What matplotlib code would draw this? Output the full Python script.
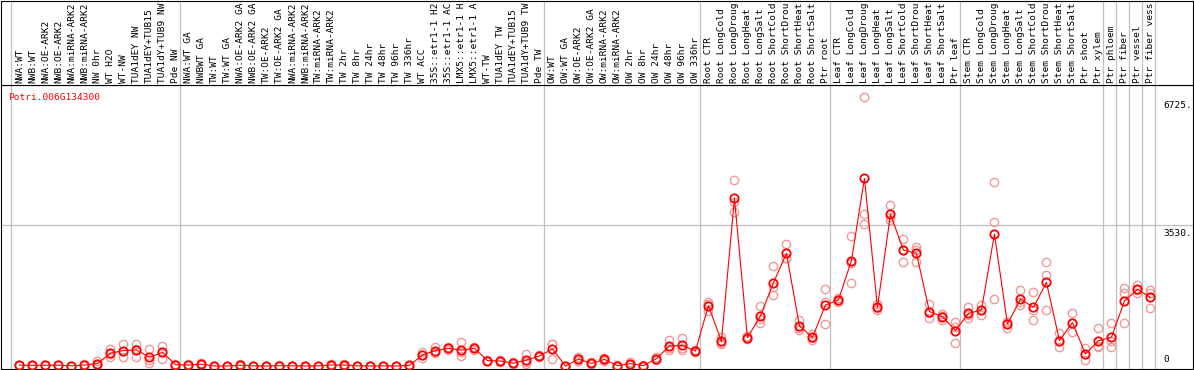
import matplotlib
matplotlib.use("Agg")
import matplotlib.pyplot as plt

# sample labels (as shown, truncated by the header height)
labels = [
    "NWA:WT", "NWB:WT", "NWA:OE-ARK2", "NWB:OE-ARK2", "NWA:miRNA-ARK2", "NWB:miRNA-ARK2",
    "NW 0hr", "WT H2O", "WT-NW", "TUA1dEY NW", "TUA1dEY+TUB15", "TUA1dY+TUB9 NW", "Pde NW",
    "NWA:WT GA", "NWBWT GA", "TW:WT", "TW:WT GA", "NWA:OE-ARK2 GA", "NWB:OE-ARK2 GA",
    "TW:OE-ARK2", "TW:OE-ARK2 GA", "NWA:miRNA-ARK2", "NWB:miRNA-ARK2", "TW:miRNA-ARK2",
    "TW:miRNA-ARK2", "TW 2hr", "TW 8hr", "TW 24hr", "TW 48hr", "TW 96hr", "TW 336hr",
    "WT ACC", "35S::etr1-1 H2", "35S::etr1-1 AC", "LMX5::etr1-1 H", "LMX5::etr1-1 A",
    "WT-TW", "TUA1dEY TW", "TUA1dEY+TUB15", "TUA1dY+TUB9 TW", "Pde TW",
    "OW:WT", "OW:WT GA", "OW:OE-ARK2", "OW:OE-ARK2 GA", "OW:miRNA-ARK2", "OW:miRNA-ARK2",
    "OW 2hr", "OW 8hr", "OW 24hr", "OW 48hr", "OW 96hr", "OW 336hr",
    "Root CTR", "Root LongCold", "Root LongDroug", "Root LongHeat", "Root LongSalt",
    "Root ShortCold", "Root ShortDrou", "Root ShortHeat", "Root ShortSalt", "Ptr root",
    "Leaf CTR", "Leaf LongCold", "Leaf LongDroug", "Leaf LongHeat", "Leaf LongSalt",
    "Leaf ShortCold", "Leaf ShortDrou", "Leaf ShortHeat", "Leaf ShortSalt", "Ptr leaf",
    "Stem CTR", "Stem LongCold", "Stem LongDroug", "Stem LongHeat", "Stem LongSalt",
    "Stem ShortCold", "Stem ShortDrou", "Stem ShortHeat", "Stem ShortSalt", "Ptr shoot",
    "Ptr xylem", "Ptr phloem", "Ptr fiber", "Ptr vessel", "Ptr fiber vess",
]

# group boundaries (column index where a new group starts)
group_edges = [0, 13, 41, 53, 63, 73, 84, 85, 86, 87, 88]

mean_vals = [
    20, 15, 20, 20, 5, 25, 60, 320, 385, 400, 220, 340, 35,
    25, 45, 0, 0, 20, 5, 0, 10, 5, 0, 5, 25, 25, 5, 0, 5, 0, 15,
    275, 385, 440, 400, 440, 135, 125, 70, 150, 250,
    425, 0, 175, 65, 165, 10, 60, 10, 185, 500, 515, 375,
    1510, 615, 4195, 710, 1250, 2085, 2815, 1000, 715, 1525,
    1650, 2635, 4690, 1465, 3790, 2900, 2815, 1360, 1235, 885,
    1315, 1400, 3300, 1050, 1675, 1465, 2090, 635, 1085, 300, 635,
    715, 1625, 1915, 1715,
]

rep_a = [
    30, 20, 30, 25, 10, 40, 120, 425, 550, 550, 425, 500, 50,
    40, 70, 5, 5, 40, 10, 0, 25, 10, 5, 10, 50, 50, 10, 5, 10, 5, 30,
    358, 467, 480, 592, 470, 160, 140, 100, 300, 280,
    558, 10, 225, 90, 200, 15, 100, 20, 225, 650, 692, 400,
    1608, 733, 4650, 750, 1500, 2500, 3050, 1150, 800, 1917,
    1700, 3258, 6725, 1550, 4025, 3175, 2967, 1550, 1300, 1108,
    1483, 1525, 4592, 1100, 1900, 1858, 2608, 817, 1317, 442, 942,
    1067, 1942, 2025, 1900,
]
rep_b = [
    15, 10, 15, 20, 0, 20, 40, 300, 375, 420, 150, 358, 30,
    20, 40, 0, 0, 15, 5, 0, 5, 5, 0, 5, 20, 20, 5, 0, 5, 0, 10,
    275, 358, 440, 350, 440, 130, 125, 60, 100, 250,
    550, 0, 175, 60, 160, 10, 50, 5, 180, 450, 458, 375,
    1540, 567, 4108, 700, 1183, 1975, 2700, 950, 700, 1608,
    1650, 2575, 3800, 1450, 3733, 2900, 2900, 1317, 1250, 975,
    1275, 1400, 3608, 1100, 1600, 1400, 2275, 617, 1075, 308, 492,
    617, 1817, 1908, 1833,
]
rep_c = [
    15, 15, 15, 15, 5, 15, 20, 233, 233, 233, 85, 167, 25,
    15, 25, 0, 0, 5, 0, 0, 0, 0, 0, 0, 5, 5, 0, 0, 0, 0, 5,
    192, 330, 400, 258, 410, 115, 110, 50, 50, 220,
    167, 0, 125, 45, 135, 5, 30, 5, 150, 400, 400, 350,
    1375, 550, 3842, 680, 1067, 1775, 2700, 900, 650, 1050,
    1600, 2067, 3550, 1400, 3650, 2600, 2592, 1200, 1150, 567,
    1192, 1275, 1667, 950, 1525, 1150, 1400, 467, 858, 150, 467,
    467, 1083, 1817, 1442,
]

gene = "Potri.006G134300"
y_marks = [6725, 3530, 0]

W, H = 1194, 370
RED = "#ff0000"
PINK = "#f09a9a"
GRID = "#c0c0c0"
FONT = dict(family="DejaVu Sans Mono", size=6.8)

fig = plt.figure(figsize=(W / 100, H / 100), dpi=100)
fig.patch.set_facecolor("white")

# plot area (pixel rows 85..369), header (rows 0..85)
ax = fig.add_axes([1 / W, 1 / H, 1192 / W, 284 / H])
hx = fig.add_axes([1 / W, 285 / H, 1192 / W, 84.5 / H], sharex=ax)

n = len(labels)
xmin, xmax = -10 / 13, 1182 / 13
ax.set_xlim(xmin, xmax)
ax.set_ylim(-75, 7025)
hx.set_ylim(0, 85)

for a in (ax, hx):
    a.set_xticks([]); a.set_yticks([])
    for s in a.spines.values():
        s.set_linewidth(0.8); s.set_color("black")
    for e in group_edges:
        a.axvline(e, color=GRID, lw=0.9, zorder=1)

ax.axhline(3530, color=GRID, lw=0.9, zorder=1)

xs = [i + 0.65 for i in range(n)]
for reps in (rep_a, rep_b, rep_c):
    ax.plot(xs, reps, ls="none", marker="o", ms=6.0, mfc="none", mec=PINK,
            mew=1.0, zorder=2, clip_on=False)
ax.plot(xs, mean_vals, color=RED, lw=0.8, marker="o", ms=6.0, mfc="none",
        mec=RED, mew=1.3, zorder=3, clip_on=False)

for x, lab in zip(xs, labels):
    hx.text(x, 2, lab, rotation=90, ha="center", va="bottom", color="black", **FONT)

ax.text(0.006, 0.955, gene, transform=ax.transAxes, color=RED, ha="left", va="center", **FONT)

xr = 1163 / 13 - 11 / 13
for v in y_marks:
    if v == 0:
        ax.text(xr, v + 60, "0", ha="left", va="bottom", color="black", **FONT)
    else:
        ax.text(xr, v - 100, f"{v}.", ha="left", va="top", color="black", **FONT)

fig.savefig("out.png", dpi=100, facecolor="white")
